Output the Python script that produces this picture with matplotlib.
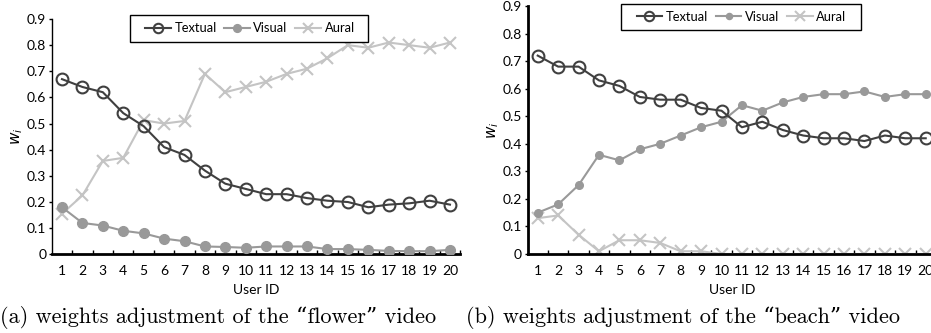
import matplotlib.pyplot as plt
import numpy as np
from matplotlib.patches import Rectangle

# user ids
users = list(range(1, 21))

# (a) "flower" video
flower_textual = [0.67, 0.64, 0.62, 0.54, 0.49, 0.41, 0.38, 0.32, 0.27, 0.25,
                  0.23, 0.23, 0.215, 0.205, 0.20, 0.18, 0.19, 0.195, 0.205, 0.19]
flower_visual = [0.18, 0.12, 0.11, 0.09, 0.08, 0.06, 0.05, 0.03, 0.028, 0.025,
                 0.03, 0.03, 0.03, 0.02, 0.02, 0.017, 0.013, 0.012, 0.012, 0.017]
flower_aural = [0.155, 0.225, 0.357, 0.369, 0.513, 0.50, 0.51, 0.69, 0.62, 0.64,
                0.66, 0.69, 0.71, 0.75, 0.80, 0.79, 0.81, 0.80, 0.79, 0.81]

# (b) "beach" video
beach_textual = [0.72, 0.68, 0.68, 0.63, 0.61, 0.57, 0.56, 0.56, 0.53, 0.52,
                 0.46, 0.48, 0.45, 0.43, 0.42, 0.42, 0.41, 0.43, 0.42, 0.42]
beach_visual = [0.15, 0.18, 0.25, 0.36, 0.34, 0.38, 0.40, 0.43, 0.46, 0.48,
                0.54, 0.52, 0.55, 0.57, 0.58, 0.58, 0.59, 0.57, 0.58, 0.58]
beach_aural = [0.13, 0.14, 0.07, 0.01, 0.05, 0.05, 0.04, 0.01, 0.01, 0.0,
               0.0, 0.0, 0.0, 0.0, 0.0, 0.0, 0.0, 0.0, 0.0, 0.0]

yticks = [0, 0.1, 0.2, 0.3, 0.4, 0.5, 0.6, 0.7, 0.8, 0.9]
ytick_labels = ['0', '0.1', '0.2', '0.3', '0.4', '0.5', '0.6', '0.7', '0.8', '0.9']

captions = ['(a) weights adjustment of the \u201cflower\u201d video',
            '(b) weights adjustment of the \u201cbeach\u201d video']

plt.rcParams['font.family'] = ['Lato', 'DejaVu Sans']
plt.rcParams['mathtext.fontset'] = 'dejavusans'

fig = plt.figure(figsize=(9.31, 3.33), dpi=100)
ax1 = fig.add_axes([0.0556, 0.2363, 0.4387, 0.7067])
ax2 = fig.add_axes([0.5666, 0.2372, 0.4387, 0.7448])

c_text = '#404040'
c_vis = '#999999'
c_aur = '#c4c4c4'


def draw(ax, textual, visual, aural, yspine_w, vis_ms, box, leg_xy):
    ax.plot(users, textual, color=c_text, lw=1.5, marker='o', ms=8.5,
            mfc='none', mec=c_text, mew=1.5, label='Textual', zorder=4)
    ax.plot(users, visual, color=c_vis, lw=1.5, marker='o', ms=vis_ms,
            mfc=c_vis, mec=c_vis, label='Visual', zorder=3)
    ax.plot(users, aural, color=c_aur, lw=1.5, marker='x', ms=8.5,
            mew=1.5, label='Aural', zorder=2)
    ax.set_xlim(0.5, 20.5)
    ax.set_ylim(0, 0.9)
    ax.set_yticks(yticks)
    ax.set_yticklabels(ytick_labels)
    ax.set_xticks(users)
    ax.set_xticklabels([str(u) for u in users])
    ax.set_xticks(np.arange(1.5, 21, 1.0), minor=True)
    ax.tick_params(axis='x', which='major', length=0, labelsize=10, pad=8)
    ax.tick_params(axis='x', which='minor', direction='in', length=3, width=1)
    ax.tick_params(axis='y', which='major', direction='out', length=2,
                   width=1, labelsize=10, pad=2)
    for s in ['top', 'right']:
        ax.spines[s].set_visible(False)
    ax.spines['bottom'].set_linewidth(2)
    ax.spines['left'].set_linewidth(yspine_w)
    ax.set_xlabel('User ID', fontsize=10, labelpad=5)
    ax.set_ylabel('$w_i$', fontsize=11, labelpad=1)
    # legend box drawn by hand, entries are left-aligned inside it
    x0, y0, x1, y1 = box
    ax.add_patch(Rectangle((x0, y0), x1 - x0, y1 - y0, transform=ax.transAxes,
                           fc='white', ec='black', lw=1, clip_on=False,
                           zorder=5))
    leg = ax.legend(loc='center left', bbox_to_anchor=leg_xy, ncol=3,
                    frameon=False, fontsize=9.3,
                    handlelength=2.0, handletextpad=0.25, columnspacing=0.6,
                    borderpad=0, borderaxespad=0, markerscale=0.8)
    leg.set_zorder(6)
    return leg


draw(ax1, flower_textual, flower_visual, flower_aural, 1, 7,
     (0.1915, 0.902, 0.7742, 1.017), (0.229, 0.9596))
draw(ax2, beach_textual, beach_visual, beach_aural, 2, 5.5,
     (0.228, 0.903, 0.816, 1.008), (0.267, 0.956))

fig.text(0.0, 0.012, captions[0], family=['cmr10', 'DejaVu Serif'],
         fontsize=16, ha='left', va='bottom')
fig.text(0.5, 0.012, captions[1], family=['cmr10', 'DejaVu Serif'],
         fontsize=16, ha='left', va='bottom')

fig.savefig('out.png', dpi=100)
